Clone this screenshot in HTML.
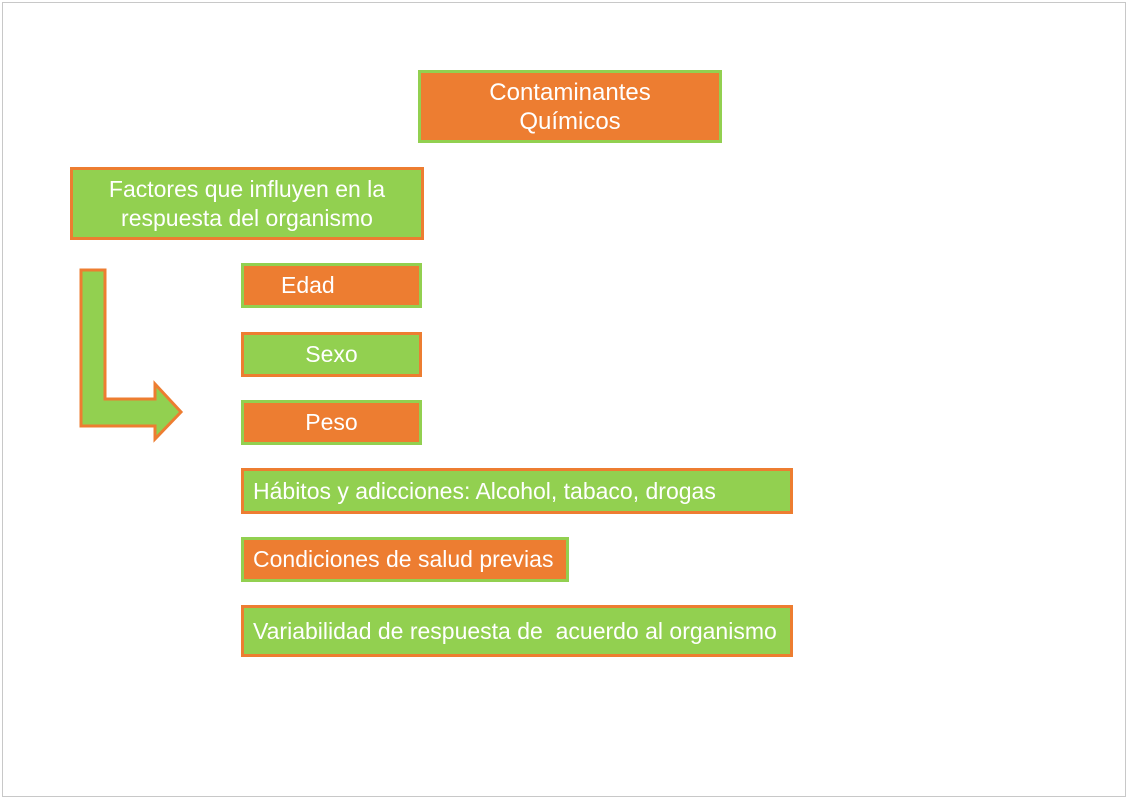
<!DOCTYPE html>
<html><head><meta charset="utf-8"><style>
html,body{margin:0;padding:0;background:#fff;}
body{width:1128px;height:800px;position:relative;overflow:hidden;font-family:"Liberation Sans",sans-serif;}
.frame{position:absolute;left:2px;top:2px;width:1122px;height:793px;border:1px solid #c8c8c8;}
.b{position:absolute;box-sizing:border-box;border:3px solid;color:#fff;font-size:23px;display:flex;align-items:center;white-space:nowrap;}
.o{background:#ED7D31;border-color:#92D050;}
.g{background:#92D050;border-color:#ED7D31;}
.c{justify-content:center;text-align:center;line-height:29px;}
</style></head><body>
<div class="frame"></div>
<div class="b o c" style="left:418px;top:70px;width:304px;height:73px;font-size:24px;"><span>Contaminantes<br>Químicos</span></div>
<div class="b g c" style="left:70px;top:167px;width:354px;height:73px;"><span>Factores que influyen en la<br>respuesta del organismo</span></div>
<svg style="position:absolute;left:0;top:0" width="1128" height="800">
<polygon points="81,270 105,270 105,399 155,399 155,384 181,412 155,439 155,426 81,426" fill="#92D050" stroke="#ED7D31" stroke-width="3"/>
</svg>
<div class="b o" style="left:241px;top:263px;width:181px;height:45px;padding-left:37px;"><span>Edad</span></div>
<div class="b g c" style="left:241px;top:332px;width:181px;height:45px;"><span>Sexo</span></div>
<div class="b o c" style="left:241px;top:400px;width:181px;height:45px;"><span>Peso</span></div>
<div class="b g" style="left:241px;top:468px;width:552px;height:46px;padding-left:9px;"><span>Hábitos y adicciones: Alcohol, tabaco, drogas</span></div>
<div class="b o" style="left:241px;top:537px;width:328px;height:45px;padding-left:9px;"><span>Condiciones de salud previas</span></div>
<div class="b g" style="left:241px;top:605px;width:552px;height:52px;padding-left:9px;"><span>Variabilidad de respuesta de&nbsp; acuerdo al organismo</span></div>
</body></html>
